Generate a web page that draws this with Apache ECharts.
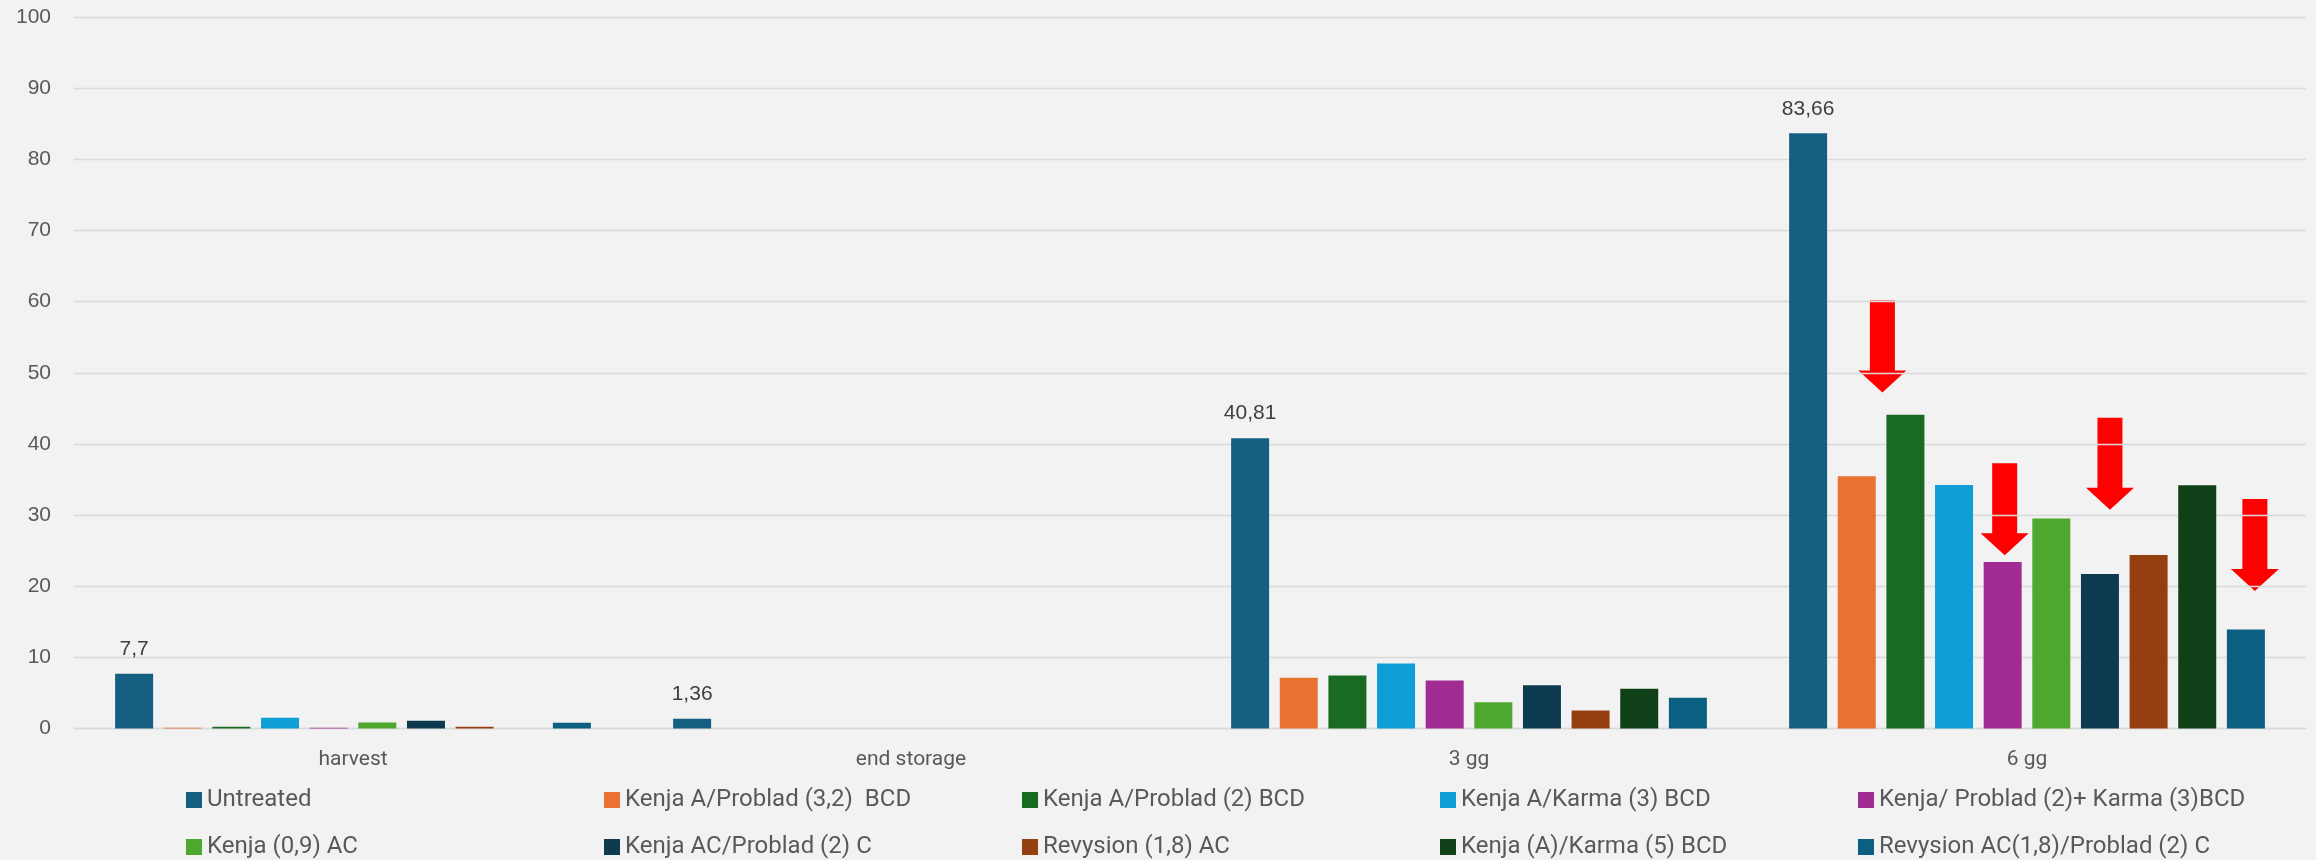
<!DOCTYPE html>
<html>
<head>
<meta charset="utf-8">
<script src="https://cdn.jsdelivr.net/npm/echarts@6/dist/echarts.min.js"></script>
<style>
  html, body { margin: 0; padding: 0; background: #F2F2F2; }
  #chart { width: 2316px; height: 860px; }
</style>
</head>
<body>
<div id="chart"></div>
<script>
// --- data ---
const categories = ['harvest', 'end storage', '3 gg', '6 gg'];
const seriesNames = [
  'Untreated',
  'Kenja A/Problad (3,2)  BCD',
  'Kenja A/Problad (2) BCD',
  'Kenja A/Karma (3) BCD',
  'Kenja/ Problad (2)+ Karma (3)BCD',
  'Kenja (0,9) AC',
  'Kenja AC/Problad (2) C',
  'Revysion (1,8) AC',
  'Kenja (A)/Karma (5) BCD',
  'Revysion AC(1,8)/Problad (2) C'
];
// one array per category, in series order
const harvest    = [7.7, 0.1, 0.25, 1.5, 0.1, 0.85, 1.08, 0.25, 0, 0.8];
const endStorage = [1.36, 0, 0, 0, 0, 0, 0, 0, 0, 0];
const gg3        = [40.81, 7.12, 7.45, 9.13, 6.74, 3.7, 6.09, 2.53, 5.57, 4.31];
const gg6        = [83.66, 35.46, 44.1, 34.24, 23.4, 29.5, 21.7, 24.4, 34.2, 13.9];
const yTicks = [0, 10, 20, 30, 40, 50, 60, 70, 80, 90, 100];

// red arrow annotations in "6 gg": series they point at + value at arrow centre
const arrowSeries = [2, 4, 6, 9];
const arrowValues = [53.7, 30.8, 37.2, 25.8];

// --- styling ---
const COLORS = [
  '#156082', '#E97132', '#196B24', '#0F9ED5', '#A02B93',
  '#4EA72E', '#0E3A50', '#953F10', '#0F4018', '#0B5F81'
];
const ARROW_SHIFT = [-23, 2, 10, 9]; // px, nudges arrows off bar centres
const ARROW_PATH = 'path://M11.5,0H36.5V70H48L24,92L0,70H11.5Z';
const TXT = '#595959';

const groups = [harvest, endStorage, gg3, gg6];

const series = seriesNames.map((name, i) => {
  const s = {
    name,
    type: 'bar',
    data: groups.map(g => g[i]),
    barWidth: 38,
    barGap: '28%',
    itemStyle: { color: COLORS[i] },
    animation: false
  };
  if (i === 0) {
    s.label = {
      show: true,
      position: 'top',
      distance: 14,
      color: '#404040',
      fontSize: 21,
      fontFamily: 'Liberation Sans',
      formatter: p => String(p.value).replace('.', ',')
    };
  }
  const ai = arrowSeries.indexOf(i);
  if (ai >= 0) {
    s.markPoint = {
      z: 0,
      silent: true,
      symbol: ARROW_PATH,
      symbolSize: [48, 92],
      symbolOffset: [ARROW_SHIFT[ai], 0],
      itemStyle: { color: '#FF0000' },
      label: { show: false },
      data: [{ coord: [categories[3], arrowValues[ai]] }]
    };
  }
  return s;
});

const chart = echarts.init(document.getElementById('chart'));
chart.setOption({
  backgroundColor: '#F2F2F2',
  animation: false,
  grid: { left: 74, right: 10, top: 17, bottom: 131.5, containLabel: false },
  legend: {
    data: seriesNames,
    left: 186,
    top: 776.5,
    width: 2095,
    padding: 0,
    itemGap: 0,
    itemWidth: 16,
    itemHeight: 16,
    icon: 'rect',
    textStyle: {
      color: TXT,
      fontSize: 24,
      fontFamily: 'Roboto',
      width: 397,
      lineHeight: 47,
      overflow: 'truncate'
    }
  },
  xAxis: {
    type: 'category',
    data: categories,
    axisTick: { show: false },
    axisLine: { lineStyle: { color: '#D9D9D9', width: 1.3 } },
    axisLabel: { color: TXT, fontSize: 21, fontFamily: 'Roboto', margin: 21 }
  },
  yAxis: {
    type: 'value',
    z: 1,
    min: yTicks[0],
    max: yTicks[yTicks.length - 1],
    interval: yTicks[1] - yTicks[0],
    axisLine: { show: false },
    axisTick: { show: false },
    axisLabel: { color: TXT, fontSize: 21, fontFamily: 'Liberation Sans', margin: 23 },
    splitLine: { lineStyle: { color: '#D9D9D9', width: 1.3 } }
  },
  series
});
</script>
</body>
</html>
